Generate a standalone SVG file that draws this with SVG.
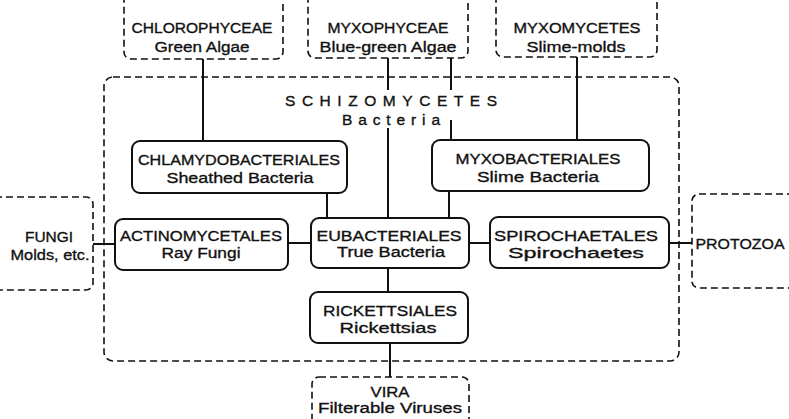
<svg xmlns="http://www.w3.org/2000/svg" width="789" height="419" viewBox="0 0 789 419">
<style>
.bg{fill:#fff}
.solid{fill:none;stroke:#111;stroke-width:2}
.dash{fill:none;stroke:#111;stroke-width:1.6;stroke-dasharray:7 4}
.ln{stroke:#111;stroke-width:2;fill:none}
text{font-family:"Liberation Sans",Arial,sans-serif;font-size:15.5px;fill:#111;stroke:#111;stroke-width:0.35;text-anchor:middle}
</style>
<rect class="bg" x="0" y="0" width="789" height="419"/>
<g id="connectors">
<path class="ln" d="M203 59V141"/>
<path class="ln" d="M388 58V90M388 128V218"/>
<path class="ln" d="M451 58V90M451 120V140"/>
<path class="ln" d="M577 57V140"/>
<path class="ln" d="M327 193V218"/>
<path class="ln" d="M449 191V218"/>
<path class="ln" d="M93 244H115"/>
<path class="ln" d="M288 243H311"/>
<path class="ln" d="M469 243H490"/>
<path class="ln" d="M669 243H692"/>
<path class="ln" d="M388 268V292"/>
<path class="ln" d="M390 343V377"/>
</g>
<g id="schizomycetes">
<rect class="dash" x="104" y="77" width="575" height="284" rx="9"/>
<text x="391" y="106" textLength="212" lengthAdjust="spacing">SCHIZOMYCETES</text>
<text x="391" y="125" textLength="98" lengthAdjust="spacing">Bacteria</text>
</g>
<g id="chlorophyceae">
<rect class="dash" x="124" y="-12" width="159" height="71" rx="7"/>
<text x="202" y="33" textLength="141" lengthAdjust="spacingAndGlyphs">CHLOROPHYCEAE</text>
<text x="202" y="52" textLength="95" lengthAdjust="spacingAndGlyphs">Green Algae</text>
</g>
<g id="myxophyceae">
<rect class="dash" x="308" y="-12" width="160" height="70" rx="7"/>
<text x="388" y="33" textLength="121" lengthAdjust="spacingAndGlyphs">MYXOPHYCEAE</text>
<text x="388" y="52" textLength="137" lengthAdjust="spacingAndGlyphs">Blue-green Algae</text>
</g>
<g id="myxomycetes">
<rect class="dash" x="496" y="-12" width="161" height="69" rx="7"/>
<text x="577" y="33" textLength="127" lengthAdjust="spacingAndGlyphs">MYXOMYCETES</text>
<text x="576" y="52" textLength="99" lengthAdjust="spacingAndGlyphs">Slime-molds</text>
</g>
<g id="chlamydobacteriales">
<rect class="solid" x="132" y="141" width="215" height="52" rx="8"/>
<text x="239" y="165" textLength="202" lengthAdjust="spacingAndGlyphs">CHLAMYDOBACTERIALES</text>
<text x="240" y="183" textLength="147" lengthAdjust="spacingAndGlyphs">Sheathed Bacteria</text>
</g>
<g id="myxobacteriales">
<rect class="solid" x="432" y="140" width="217" height="51" rx="8"/>
<text x="538" y="164" textLength="165" lengthAdjust="spacingAndGlyphs">MYXOBACTERIALES</text>
<text x="538" y="182" textLength="122" lengthAdjust="spacingAndGlyphs">Slime Bacteria</text>
</g>
<g id="fungi">
<rect class="dash" x="-12" y="197" width="105" height="93" rx="7"/>
<text x="49" y="242" textLength="48" lengthAdjust="spacingAndGlyphs">FUNGI</text>
<text x="50" y="260" textLength="79" lengthAdjust="spacingAndGlyphs">Molds, etc.</text>
</g>
<g id="actinomycetales">
<rect class="solid" x="115" y="219" width="173" height="51" rx="8"/>
<text x="201" y="241" textLength="162" lengthAdjust="spacingAndGlyphs">ACTINOMYCETALES</text>
<text x="201" y="258" textLength="79" lengthAdjust="spacingAndGlyphs">Ray Fungi</text>
</g>
<g id="eubacteriales">
<rect class="solid" x="311" y="218" width="158" height="50" rx="8"/>
<text x="389" y="241" textLength="145" lengthAdjust="spacingAndGlyphs">EUBACTERIALES</text>
<text x="391" y="257" textLength="108" lengthAdjust="spacingAndGlyphs">True Bacteria</text>
</g>
<g id="spirochaetales">
<rect class="solid" x="490" y="217" width="179" height="51" rx="8"/>
<text x="576" y="241" textLength="164" lengthAdjust="spacingAndGlyphs">SPIROCHAETALES</text>
<text x="576" y="258" textLength="136" lengthAdjust="spacingAndGlyphs">Spirochaetes</text>
</g>
<g id="protozoa">
<rect class="dash" x="692" y="194" width="110" height="94" rx="7"/>
<text x="740" y="249" textLength="89" lengthAdjust="spacingAndGlyphs">PROTOZOA</text>
</g>
<g id="rickettsiales">
<rect class="solid" x="310" y="292" width="158" height="51" rx="8"/>
<text x="390" y="316" textLength="134" lengthAdjust="spacingAndGlyphs">RICKETTSIALES</text>
<text x="388" y="333" textLength="97" lengthAdjust="spacingAndGlyphs">Rickettsias</text>
</g>
<g id="vira">
<rect class="dash" x="312" y="377" width="157" height="60" rx="7"/>
<text x="390" y="397" textLength="39" lengthAdjust="spacingAndGlyphs">VIRA</text>
<text x="390" y="413" textLength="144" lengthAdjust="spacingAndGlyphs">Filterable Viruses</text>
</g>
</svg>
